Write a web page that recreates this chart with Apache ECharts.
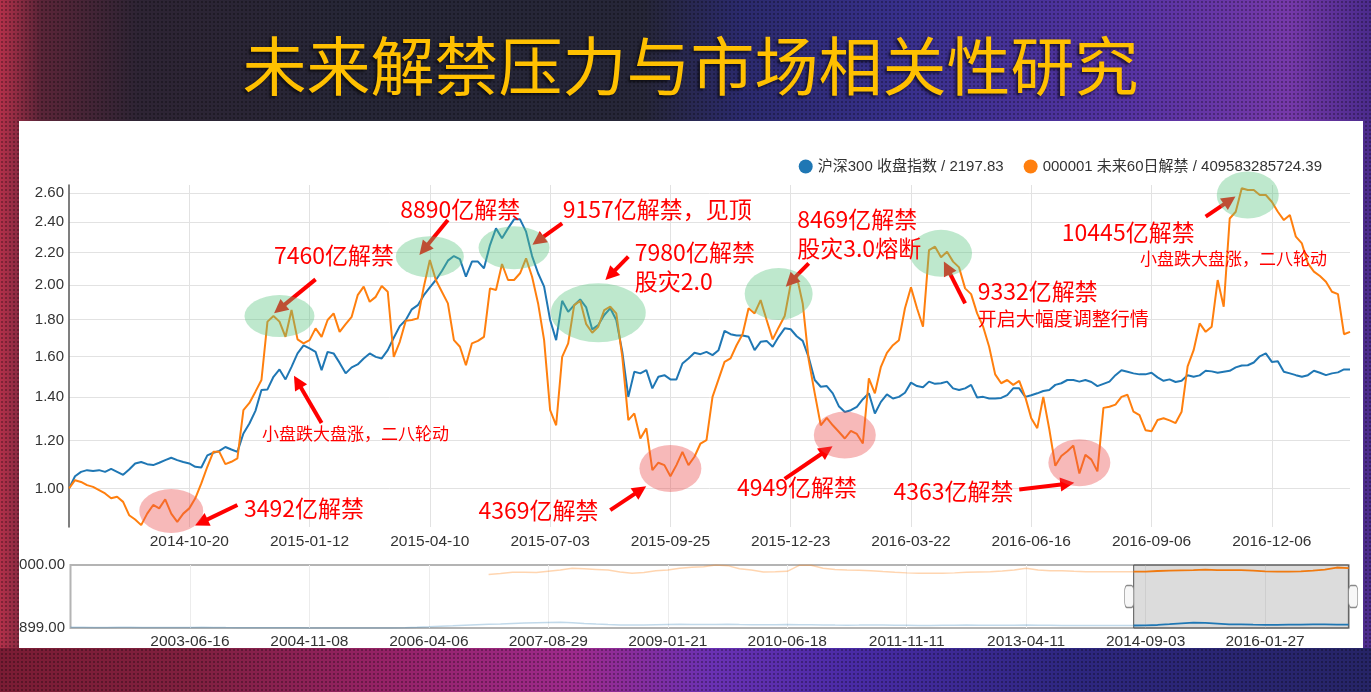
<!DOCTYPE html>
<html>
<head>
<meta charset="utf-8">
<script src="https://cdn.jsdelivr.net/npm/echarts@6/dist/echarts.min.js"></script>
<style>
html,body{margin:0;padding:0;width:1371px;height:692px;overflow:hidden;}
body{position:relative;background:#262636;}
#bgTop{position:absolute;left:0;top:0;width:1371px;height:692px;
 background:linear-gradient(90deg,#b3304a 0%,#5a2538 3%,#2e2434 10%,#262636 25%,#262638 47%,#2b2a6c 54%,#38308c 66%,#5533a2 82%,#7639a9 94%,#4b2b8c 100%);}
#bgBottom{position:absolute;left:0;top:648px;width:1371px;height:44px;
 background:linear-gradient(90deg,#7a1c34 0%,#80203f 14%,#952266 28%,#9d2a8c 42%,#6a31b3 52%,#4a2ba6 62%,#2e2780 78%,#262466 100%);}
#dots{position:absolute;left:0;top:0;width:1371px;height:692px;
 background-image:radial-gradient(rgba(0,0,0,0.28) 0.9px, transparent 1.3px);background-size:4px 4px;}
#title{position:absolute;left:5px;top:29px;width:1371px;text-align:center;color:#ffc000;
 font-family:"Noto Sans CJK SC",sans-serif;font-size:64px;line-height:66px;white-space:nowrap;
 text-shadow:-2px 2px 3px rgba(0,0,0,0.6);}
#chart{position:absolute;left:19px;top:121px;width:1344px;height:527px;background:#ffffff;}
</style>
</head>
<body>
<div id="bgTop"></div>
<div id="bgBottom"></div>
<div id="dots"></div>
<div id="title">未来解禁压力与市场相关性研究</div>
<div id="chart"></div>
<script>
// ================= DATA =================
// main chart tick dates (every 20th sample) and their sample indices
const tickDates = ['2014-10-20','2015-01-12','2015-04-10','2015-07-03','2015-09-25','2015-12-23','2016-03-22','2016-06-16','2016-09-06','2016-12-06'];
const tickIdx = [20,40,60,80,100,120,140,160,180,200];
const sampleCount = 214;

// y-axis tick labels (relative values)
const yTicks = [1.00,1.20,1.40,1.60,1.80,2.00,2.20,2.40,2.60];
const yRange = [0.852, 2.66];

// 沪深300 收盘指数 (relative to start)
const hs300 = [
1.000,1.049,1.067,1.074,1.071,1.074,1.067,1.079,1.067,1.055,
1.077,1.102,1.108,1.099,1.095,1.105,1.116,1.126,1.116,1.108,
1.102,1.088,1.085,1.136,1.147,1.155,1.172,1.161,1.151,1.231,
1.276,1.334,1.433,1.436,1.498,1.535,1.485,1.548,1.617,1.659,
1.643,1.625,1.531,1.625,1.617,1.568,1.515,1.545,1.560,1.591,
1.617,1.599,1.591,1.634,1.700,1.763,1.797,1.857,1.881,1.939,
1.985,2.029,2.084,2.148,2.177,2.158,2.049,2.142,2.142,2.100,
2.247,2.357,2.291,2.357,2.418,2.418,2.335,2.177,2.070,1.989,
1.797,1.687,1.906,1.843,1.881,1.914,1.868,1.745,1.769,1.825,
1.863,1.797,1.625,1.400,1.523,1.515,1.531,1.441,1.498,1.506,
1.485,1.485,1.565,1.591,1.620,1.613,1.625,1.608,1.634,1.737,
1.719,1.712,1.712,1.705,1.634,1.678,1.683,1.652,1.705,1.751,
1.746,1.708,1.683,1.596,1.482,1.449,1.452,1.417,1.356,1.329,
1.337,1.353,1.389,1.417,1.322,1.376,1.412,1.392,1.400,1.420,
1.469,1.452,1.446,1.474,1.463,1.466,1.474,1.441,1.433,1.441,
1.458,1.397,1.400,1.392,1.392,1.395,1.408,1.441,1.441,1.400,
1.408,1.417,1.428,1.433,1.458,1.466,1.482,1.482,1.474,1.482,
1.472,1.452,1.463,1.474,1.506,1.531,1.523,1.515,1.510,1.510,
1.518,1.495,1.478,1.485,1.472,1.478,1.506,1.498,1.505,1.528,
1.525,1.518,1.523,1.528,1.545,1.555,1.556,1.570,1.602,1.617,
1.573,1.577,1.523,1.515,1.506,1.498,1.506,1.528,1.518,1.506,
1.515,1.520,1.535,1.535];

// 000001 未来60日解禁 (relative to start)
const unlock60 = [
1.000,1.033,1.026,1.013,1.006,0.993,0.980,0.961,0.967,0.947,
0.896,0.880,0.859,0.902,0.935,0.922,0.957,0.902,0.871,0.902,
0.922,0.961,1.020,1.088,1.151,1.151,1.099,1.109,1.123,1.337,
1.371,1.425,1.482,1.788,1.819,1.788,1.705,1.853,1.691,1.670,
1.687,1.751,1.705,1.797,1.834,1.732,1.774,1.815,1.939,1.989,
1.900,1.929,1.993,1.959,1.599,1.678,1.793,1.797,1.806,1.989,
2.152,2.029,1.959,1.891,1.687,1.652,1.556,1.670,1.683,1.705,
1.979,1.969,2.127,2.029,2.029,2.070,2.162,2.049,1.891,1.687,
1.337,1.268,1.599,1.670,1.881,1.906,1.774,1.727,1.760,1.853,
1.872,1.834,1.599,1.291,1.322,1.209,1.254,1.074,1.105,1.095,
1.049,1.095,1.151,1.095,1.130,1.187,1.202,1.400,1.485,1.573,
1.591,1.660,1.719,1.863,1.834,1.910,1.797,1.691,1.756,1.819,
2.005,2.053,1.891,1.582,1.417,1.268,1.302,1.268,1.239,1.209,
1.243,1.229,1.187,1.490,1.417,1.548,1.620,1.660,1.687,1.863,
1.985,1.863,1.760,2.215,2.237,2.169,2.204,2.142,2.106,1.979,
1.945,1.834,1.760,1.652,1.510,1.466,1.482,1.458,1.478,1.400,
1.300,1.255,1.400,1.250,1.092,1.133,1.154,1.178,1.060,1.138,
1.118,1.069,1.348,1.353,1.363,1.400,1.410,1.330,1.314,1.246,
1.241,1.292,1.300,1.290,1.278,1.330,1.550,1.634,1.778,1.732,
1.760,2.029,1.872,2.424,2.470,2.636,2.624,2.624,2.588,2.588,
2.540,2.470,2.413,2.448,2.302,2.258,2.131,2.080,2.053,2.019,
1.959,1.945,1.719,1.732];

const seriesNames = ['沪深300 收盘指数 / 2197.83', '000001 未来60日解禁 / 409583285724.39'];

// navigator (long history overview, 0-100 of its own height)
const navTickDates = ['2003-06-16','2004-11-08','2006-04-06','2007-08-29','2009-01-21','2010-06-18','2011-11-11','2013-04-11','2014-09-03','2016-01-27'];
const navTickIdx = [10,20,30,40,50,60,70,80,90,100];
const navCount = 108;
const navYLabels = ['6000.00', '899.00'];
const navSelection = [89, 107];
const navBlue = [
1.0,1.0,0.8,0.8,1.0,1.0,0.8,0.8,0.6,0.6,
0.8,1.0,0.8,0.6,0.5,0.5,0.4,0.3,0.2,0.2,
0.1,0,0,0,0,0,0,0.1,0.3,1.0,
1.8,2.8,3.5,4.5,5.3,6.0,6.5,7.2,7.8,8.4,
8.8,9.0,8.2,7.2,6.3,5.5,4.8,4.6,4.8,5.2,
5.6,5.9,5.6,5.4,5.6,5.9,5.5,5.2,5.0,5.2,
5.5,5.2,5.0,4.8,4.6,4.5,4.6,4.8,4.6,4.4,
4.2,4.0,4.0,4.2,4.4,4.6,4.5,4.3,4.2,4.4,
4.6,4.4,4.2,4.0,3.9,3.9,4.0,4.1,4.0,4.0,
4.2,4.8,6.0,7.5,8.4,8.2,7.0,5.8,5.6,5.2,
5.0,5.0,5.2,5.4,5.8,5.6,5.4,5.4];
const navOrange = [
null,null,null,null,null,null,null,null,null,null,
null,null,null,null,null,null,null,null,null,null,
null,null,null,null,null,null,null,null,null,null,
null,null,null,null,null,
85,86.5,88.4,88.4,88,90,92,94.8,94,93,
92,89,86.8,88,91,92,94.8,96.5,97.3,100,
99,94,92,89,89.4,90,99.5,99.5,94.8,93,
92,91.5,91,89.5,88.4,87.5,86.8,86.8,86.8,87.5,
88.4,89,89.4,90.5,92,94.8,92,91,91,90,
89.4,89.4,89.4,89.4,89.4,89.4,90.5,91,91.5,92,
92.6,92,92,92,91,90,89.4,89.4,90,91,
92.6,96,95];

// annotations in data space: [sample index, relative value]
const ellipses = [
 {at:[16.80,0.912], size:[64,44], kind:'low'},
 {at:[34.71,1.819], size:[70,42], kind:'high'},
 {at:[60.32,2.173], size:[68,41], kind:'high'},
 {at:[73.79,2.230], size:[71,43], kind:'high'},
 {at:[87.76,1.838], size:[95,59], kind:'high'},
 {at:[99.57,1.081], size:[62,47], kind:'low'},
 {at:[117.69,1.946], size:[68,52], kind:'high'},
 {at:[128.94,1.224], size:[62,47], kind:'low'},
 {at:[145.02,2.194], size:[62,47], kind:'high'},
 {at:[167.97,1.105], size:[62,47], kind:'low'},
 {at:[195.58,2.588], size:[62,47], kind:'high'}
];
const arrows = [
 {from:[40.63,2.033], to:[34.86,1.860]},
 {from:[63.08,2.413], to:[59.36,2.219]},
 {from:[81.82,2.391], to:[78.05,2.276]},
 {from:[93.02,2.173], to:[89.97,2.059]},
 {from:[42.29,1.278], to:[37.73,1.473]},
 {from:[28.27,0.935], to:[22.29,0.869]},
 {from:[90.25,0.915], to:[94.84,0.993]},
 {from:[123.23,2.131], to:[120.42,2.019]},
 {from:[119.41,1.038], to:[126.28,1.158]},
 {from:[149.29,1.891], to:[145.73,2.104]},
 {from:[158.16,0.996], to:[165.61,1.019]},
 {from:[189.21,2.436], to:[193.48,2.550]}
];
const notes = [
 {at:[33.71,2.184], text:'7460亿解禁', size:23},
 {at:[54.50,2.487], text:'8890亿解禁', size:23},
 {at:[82.21,2.489], text:'9157亿解禁，见顶', size:23},
 {at:[94.25,2.202], text:'7980亿解禁', size:23},
 {at:[94.25,2.020], text:'股灾2.0', size:23},
 {at:[120.74,2.417], text:'8469亿解禁', size:23},
 {at:[120.74,2.226], text:'股灾3.0熔断', size:23},
 {at:[151.14,1.959], text:'9332亿解禁', size:23},
 {at:[151.14,1.806], text:'开启大幅度调整行情', size:19},
 {at:[164.98,2.328], text:'10445亿解禁', size:23},
 {at:[178.00,2.163], text:'小盘跌大盘涨，二八轮动', size:17},
 {at:[32.05,1.232], text:'小盘跌大盘涨，二八轮动', size:17},
 {at:[28.72,0.922], text:'3492亿解禁', size:23},
 {at:[68.07,0.915], text:'4369亿解禁', size:23},
 {at:[110.76,1.006], text:'4949亿解禁', size:23},
 {at:[136.82,0.987], text:'4363亿解禁', size:23}
];

// ================= BUILD =================
const BLUE = '#1f77b4', ORANGE = '#ff7f0e', RED = '#ff0000';
const LATIN = '"Liberation Sans", Arial, "Noto Sans CJK SC", sans-serif';
const CJK = '"Noto Sans CJK SC", "Noto Sans", sans-serif';
const T = v => Math.log(1 + v);          // axis transform used by the chart's y axis
const invT = t => Math.exp(t) - 1;

function buildCategories(anchors, anchorIdx, n) {
  const t = anchors.map(d => Date.parse(d + 'T00:00:00Z'));
  const out = [];
  for (let i = 0; i < n; i++) {
    let k = 0;
    while (k < anchorIdx.length - 2 && i > anchorIdx[k + 1]) k++;
    const i0 = anchorIdx[k], i1 = anchorIdx[k + 1];
    const ms = t[k] + (t[k + 1] - t[k]) * (i - i0) / (i1 - i0);
    out.push(new Date(ms).toISOString().slice(0, 10));
  }
  anchorIdx.forEach((ix, j) => { out[ix] = anchors[j]; });
  return out;
}
const cats = buildCategories(tickDates, tickIdx, sampleCount);
const navCats = buildCategories(navTickDates, navTickIdx, navCount);
const isTick = i => tickIdx.indexOf(i) >= 0;
const isNavTick = i => navTickIdx.indexOf(i) >= 0;

const chart = echarts.init(document.getElementById('chart'), null, {renderer: 'canvas'});

const ellipseData = ellipses.map(e => ({
  coord: [e.at[0], T(e.at[1])],
  symbol: 'circle',
  symbolSize: e.size,
  itemStyle: {color: e.kind === 'high' ? 'rgba(92,197,130,0.40)' : 'rgba(235,80,80,0.40)'},
  label: {show: false}
}));
const noteData = notes.map(n => ({
  coord: [n.at[0], T(n.at[1])],
  symbol: 'circle',
  symbolSize: 1,
  itemStyle: {color: 'rgba(0,0,0,0)'},
  label: {show: true, position: 'right', distance: 0, formatter: n.text,
          fontSize: n.size, color: RED, fontFamily: CJK}
}));

const navFaded = (arr) => arr.map((v, i) => (i <= navSelection[0] ? v : null));
const navFull = (arr) => arr.map((v, i) => (i >= navSelection[0] ? v : null));

const option = {
  animation: false,
  backgroundColor: 'transparent',
  textStyle: {fontFamily: LATIN},
  legend: {
    data: seriesNames,
    right: 41, top: 38, padding: 0,
    icon: 'circle', itemWidth: 14, itemHeight: 14, itemGap: 20,
    textStyle: {fontSize: 15, color: '#333', fontFamily: LATIN},
    selectedMode: false
  },
  grid: [
    {left: 50, right: 13, top: 64, bottom: 121, outerBoundsMode: 'none', containLabel: false},
    {left: 51.5, right: 14.3, top: 444, height: 63, show: true, outerBoundsMode: 'none', containLabel: false,
     borderColor: '#b4b4b4', borderWidth: 2, backgroundColor: 'transparent'}
  ],
  xAxis: [
    {type: 'category', gridIndex: 0, data: cats, boundaryGap: false,
     axisLine: {show: false}, axisTick: {show: false},
     axisLabel: {interval: (i) => isTick(i), margin: 7, fontSize: 15.5, color: '#333', fontFamily: LATIN},
     splitLine: {show: true, interval: (i) => isTick(i), lineStyle: {color: '#e2e2e2', width: 1}}},
    {type: 'category', gridIndex: 1, data: navCats, boundaryGap: false,
     axisLine: {show: false}, axisTick: {show: false},
     axisLabel: {interval: (i) => isNavTick(i), margin: 6, fontSize: 15.5, color: '#333', fontFamily: LATIN},
     splitLine: {show: true, interval: (i) => isNavTick(i), lineStyle: {color: '#ececec', width: 1}}}
  ],
  yAxis: [
    {type: 'value', gridIndex: 0, min: T(yRange[0]), max: T(yRange[1]),
     axisLine: {show: true, lineStyle: {color: '#555', width: 1.5}},
     axisTick: {show: false, customValues: yTicks.map(T)},
     axisLabel: {customValues: yTicks.map(T), formatter: (v) => invT(v).toFixed(2),
                 margin: 5, fontSize: 15, color: '#333', fontFamily: LATIN},
     splitLine: {show: true, lineStyle: {color: '#e2e2e2', width: 1}}},
    {type: 'value', gridIndex: 1, min: 0, max: 100,
     axisLine: {show: false}, axisTick: {show: false, customValues: [0, 100]},
     axisLabel: {customValues: [0, 100], formatter: (v) => (v > 50 ? navYLabels[0] : navYLabels[1]),
                 margin: 5.5, fontSize: 15, color: '#333', fontFamily: LATIN},
     splitLine: {show: false}}
  ],
  series: [
    {name: seriesNames[0], type: 'line', xAxisIndex: 0, yAxisIndex: 0, data: hs300.map(T),
     symbol: 'none', lineStyle: {width: 2, color: BLUE}, itemStyle: {color: BLUE}, z: 2, silent: true},
    {name: seriesNames[1], type: 'line', xAxisIndex: 0, yAxisIndex: 0, data: unlock60.map(T),
     symbol: 'none', lineStyle: {width: 2, color: ORANGE}, itemStyle: {color: ORANGE}, z: 3, silent: true},
    {name: 'arrows', type: 'line', xAxisIndex: 0, yAxisIndex: 0, data: [], silent: true,
     markLine: {silent: true, animation: false, z: 5,
       symbol: ['none', 'triangle'], symbolSize: 14,
       lineStyle: {color: RED, width: 4, type: 'solid'},
       label: {show: false}, emphasis: {disabled: true},
       data: arrows.map(a => [{coord: [a.from[0], T(a.from[1])]}, {coord: [a.to[0], T(a.to[1])]}])}},
    {name: 'notes', type: 'line', xAxisIndex: 0, yAxisIndex: 0, data: [], silent: true,
     markPoint: {silent: true, animation: false, z: 6, emphasis: {disabled: true},
       data: ellipseData.concat(noteData)}},
    // navigator
    {name: 'navBlueFaded', type: 'line', xAxisIndex: 1, yAxisIndex: 1, data: navFaded(navBlue),
     symbol: 'none', lineStyle: {width: 1.5, color: 'rgba(31,119,180,0.28)'}, silent: true},
    {name: 'navOrangeFaded', type: 'line', xAxisIndex: 1, yAxisIndex: 1, data: navFaded(navOrange),
     symbol: 'none', lineStyle: {width: 1.5, color: 'rgba(255,127,14,0.33)'}, silent: true},
    {name: 'navBlue', type: 'line', xAxisIndex: 1, yAxisIndex: 1, data: navFull(navBlue),
     symbol: 'none', lineStyle: {width: 1.8, color: BLUE}, silent: true,
     markArea: {silent: true, data: [[{xAxis: navCats[navSelection[0]]}, {xAxis: navCats[navSelection[1]]}]],
       itemStyle: {color: 'rgba(120,120,120,0.26)', borderColor: '#555', borderWidth: 1}},
     markPoint: {silent: true, z: 7, symbol: 'roundRect', symbolSize: [9, 22], label: {show: false},
       itemStyle: {color: '#f7f7f7', borderColor: '#8a8a8a', borderWidth: 1},
       data: [{coord: [navSelection[0], 50], symbolOffset: [-4.5, 0]},
              {coord: [navSelection[1], 50], symbolOffset: [4.5, 0]}]}},
    {name: 'navOrange', type: 'line', xAxisIndex: 1, yAxisIndex: 1, data: navFull(navOrange),
     symbol: 'none', lineStyle: {width: 1.8, color: '#f07a10'}, silent: true}
  ]
};
chart.setOption(option);
</script>
</body>
</html>
